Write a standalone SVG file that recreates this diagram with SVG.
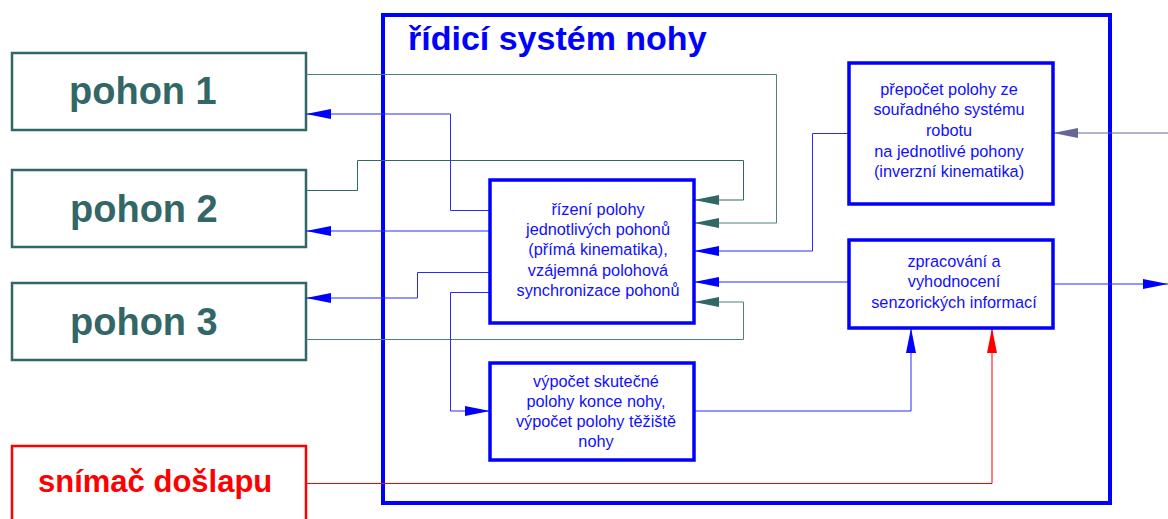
<svg xmlns="http://www.w3.org/2000/svg" width="1168" height="519" viewBox="0 0 1168 519">
  <style>
    .drive { fill: #ffffff; stroke: #336666; stroke-width: 2.5; }
    .drive-label { font-family: "Liberation Sans", Arial, sans-serif; font-weight: bold; font-size: 38px; fill: #336666; }
    .sensor { fill: #ffffff; stroke: #ff0000; stroke-width: 2.5; }
    .sensor-label { font-family: "Liberation Sans", Arial, sans-serif; font-weight: bold; font-size: 31px; fill: #ff0000; }
    .system { fill: none; stroke: #0000ff; stroke-width: 4; }
    .system-label { font-family: "Liberation Sans", Arial, sans-serif; font-weight: bold; font-size: 34px; fill: #0000ff; }
    .block { fill: #ffffff; stroke: #0000ff; stroke-width: 3.5; }
    .block-label { font-family: "Liberation Sans", Arial, sans-serif; font-size: 16.3px; fill: #1010ff; text-anchor: middle; }
    .wire { fill: none; stroke-width: 1; }
    .teal { stroke: #4f8080; }
    .teal-dark { stroke: #336666; }
    .blue { stroke: #2a2aff; }
    .red { stroke: #ff0000; }
    .slate { stroke: #666699; }
  </style>
  <defs>
    <marker id="arrow-teal" markerUnits="userSpaceOnUse" markerWidth="25" markerHeight="10" refX="25" refY="5" orient="auto">
      <path d="M0,0 L25,5 L0,10 Z" fill="#336666"/>
    </marker>
    <marker id="arrow-blue" markerUnits="userSpaceOnUse" markerWidth="25" markerHeight="10" refX="25" refY="5" orient="auto">
      <path d="M0,0 L25,5 L0,10 Z" fill="#0000ff"/>
    </marker>
    <marker id="arrow-red" markerUnits="userSpaceOnUse" markerWidth="25" markerHeight="10" refX="25" refY="5" orient="auto">
      <path d="M0,0 L25,5 L0,10 Z" fill="#ff0000"/>
    </marker>
    <marker id="arrow-slate" markerUnits="userSpaceOnUse" markerWidth="25" markerHeight="10" refX="25" refY="5" orient="auto">
      <path d="M0,0 L25,5 L0,10 Z" fill="#666699"/>
    </marker>
  </defs>

  <rect width="1168" height="519" fill="#ffffff"/>

  <!-- control system frame -->
  <g id="system">
    <rect class="system" x="383" y="15" width="727" height="488"/>
    <text class="system-label" x="408" y="50">řídicí systém nohy</text>
  </g>

  <!-- drives and foot sensor -->
  <g id="drive1">
    <rect class="drive" x="12" y="53" width="294" height="77"/>
    <text class="drive-label" x="69" y="104">pohon 1</text>
  </g>
  <g id="drive2">
    <rect class="drive" x="12" y="170" width="294" height="77"/>
    <text class="drive-label" x="70" y="222">pohon 2</text>
  </g>
  <g id="drive3">
    <rect class="drive" x="12" y="283" width="294" height="77"/>
    <text class="drive-label" x="70" y="335">pohon 3</text>
  </g>
  <g id="footSensor">
    <rect class="sensor" x="12" y="446" width="294" height="90"/>
    <text class="sensor-label" x="38" y="492">snímač došlapu</text>
  </g>

  <!-- connectors -->
  <g id="connectors">
    <polyline class="wire teal" points="306,74.5 776.5,74.5 776.5,223 694,223" marker-end="url(#arrow-teal)"/>
    <polyline class="wire teal-dark" points="306,190.5 357.5,190.5 357.5,160.5 743.5,160.5 743.5,200 694,200" marker-end="url(#arrow-teal)"/>
    <polyline class="wire teal" points="306,339.5 743.5,339.5 743.5,302 694,302" marker-end="url(#arrow-teal)"/>
    <polyline class="wire blue" points="490,210.5 450.5,210.5 450.5,114 306,114" marker-end="url(#arrow-blue)"/>
    <polyline class="wire blue" points="490,231 306,231" marker-end="url(#arrow-blue)"/>
    <polyline class="wire blue" points="490,272.5 417.5,272.5 417.5,298 306,298" marker-end="url(#arrow-blue)"/>
    <polyline class="wire blue" points="490,292.5 450.5,292.5 450.5,411 490,411" marker-end="url(#arrow-blue)"/>
    <polyline class="wire blue" points="849,133.5 812.5,133.5 812.5,251 694,251" marker-end="url(#arrow-blue)"/>
    <polyline class="wire blue" points="849,282 694,282" marker-end="url(#arrow-blue)"/>
    <polyline class="wire blue" points="694,411 911,411 911,328" marker-end="url(#arrow-blue)"/>
    <polyline class="wire red" points="306,483.5 992,483.5 992,328" marker-end="url(#arrow-red)"/>
    <polyline class="wire slate" points="1168,133 1053,133" marker-end="url(#arrow-slate)"/>
    <polyline class="wire blue" points="1053,284 1168,284" marker-end="url(#arrow-blue)"/>
  </g>

  <!-- processing blocks -->
  <g id="positionControl">
    <rect class="block" x="490" y="180" width="204" height="143"/>
    <text class="block-label" x="598" y="215">řízení polohy</text>
    <text class="block-label" x="598" y="235">jednotlivých pohonů</text>
    <text class="block-label" x="598" y="255">(přímá kinematika),</text>
    <text class="block-label" x="598" y="276">vzájemná polohová</text>
    <text class="block-label" x="598" y="296">synchronizace pohonů</text>
  </g>
  <g id="inverseKinematics">
    <rect class="block" x="849" y="63" width="204" height="141"/>
    <text class="block-label" x="949" y="95">přepočet polohy ze</text>
    <text class="block-label" x="949" y="115">souřadného systému</text>
    <text class="block-label" x="949" y="136">robotu</text>
    <text class="block-label" x="949" y="157">na jednotlivé pohony</text>
    <text class="block-label" x="949" y="177">(inverzní kinematika)</text>
  </g>
  <g id="sensorProcessing">
    <rect class="block" x="849" y="240" width="204" height="88"/>
    <text class="block-label" x="954" y="267">zpracování a</text>
    <text class="block-label" x="954" y="287">vyhodnocení</text>
    <text class="block-label" x="954" y="308">senzorických informací</text>
  </g>
  <g id="positionComputation">
    <rect class="block" x="490" y="363" width="204" height="97"/>
    <text class="block-label" x="596" y="387">výpočet skutečné</text>
    <text class="block-label" x="596" y="407">polohy konce nohy,</text>
    <text class="block-label" x="596" y="427">výpočet polohy těžiště</text>
    <text class="block-label" x="596" y="447">nohy</text>
  </g>
</svg>
